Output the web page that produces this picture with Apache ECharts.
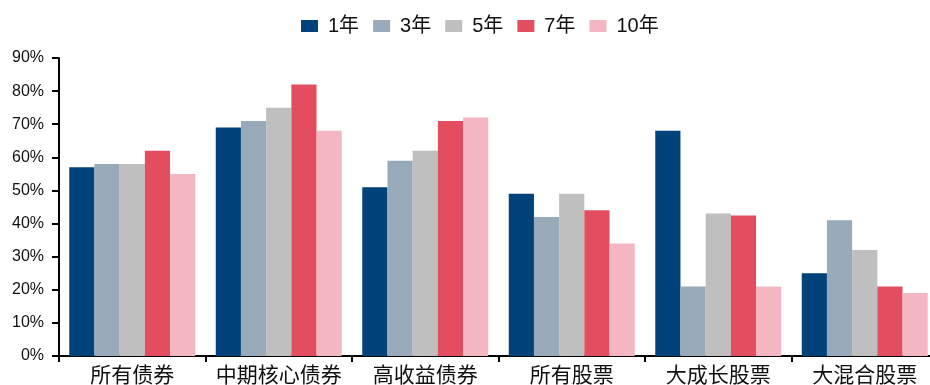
<!DOCTYPE html>
<html><head><meta charset="utf-8">
<script src="https://cdn.jsdelivr.net/npm/echarts@6/dist/echarts.min.js"></script>
<style>html,body{margin:0;padding:0;background:#fff}#c{width:930px;height:385px}</style>
</head><body><div id="c"></div>
<script>
const categories = ['所有债券','中期核心债券','高收益债券','所有股票','大成长股票','大混合股票'];
const seriesNames = ['1年','3年','5年','7年','10年'];
const y1 = [57, 69, 51, 49, 68, 25];
const y3 = [58, 71, 59, 42, 21, 41];
const y5 = [58, 75, 62, 49, 43, 32];
const y7 = [62, 82, 71, 44, 42.4, 21];
const y10 = [55, 68, 72, 34, 21, 19];
const yTicks = [0,10,20,30,40,50,60,70,80,90];
const colors = ['#00427a','#98a9ba','#bfbfbf','#e34d60','#f4b6c0'];
const values = [y1,y3,y5,y7,y10];
const chart = echarts.init(document.getElementById('c'));
chart.setOption({
  animation:false,
  textStyle:{fontFamily:'Liberation Sans, Arial, Noto Sans CJK SC'},
  legend:{top:11,left:296,itemWidth:17,itemHeight:12,itemGap:14,icon:'rect',
    textStyle:{fontSize:20,color:'#111',padding:[0,0,0,5],fontFamily:'Liberation Sans, Noto Sans CJK SC'},
    data:seriesNames},
  grid:{left:59,right:-8,top:58,bottom:29,containLabel:false,outerBoundsMode:'none'},
  xAxis:{type:'category',data:categories,
    axisLine:{lineStyle:{color:'#000',width:2}},
    axisTick:{show:true,length:6,interval:0,lineStyle:{color:'#000',width:2}},
    axisLabel:{fontSize:21,color:'#111',margin:8,interval:0,fontFamily:'Noto Sans CJK SC'}},
  yAxis:{type:'value',min:0,max:90,interval:10,
    splitLine:{show:false},
    axisLine:{show:true,lineStyle:{color:'#000',width:2}},
    axisTick:{show:true,length:7,lineStyle:{color:'#000',width:2}},
    axisLabel:{fontSize:16,color:'#111',margin:15,formatter:v=>v+'%'}},
  series:seriesNames.map((n,i)=>({name:n,type:'bar',data:values[i],
    barGap:'0%',barCategoryGap:'14%',itemStyle:{color:colors[i]}}))
});
</script></body></html>
